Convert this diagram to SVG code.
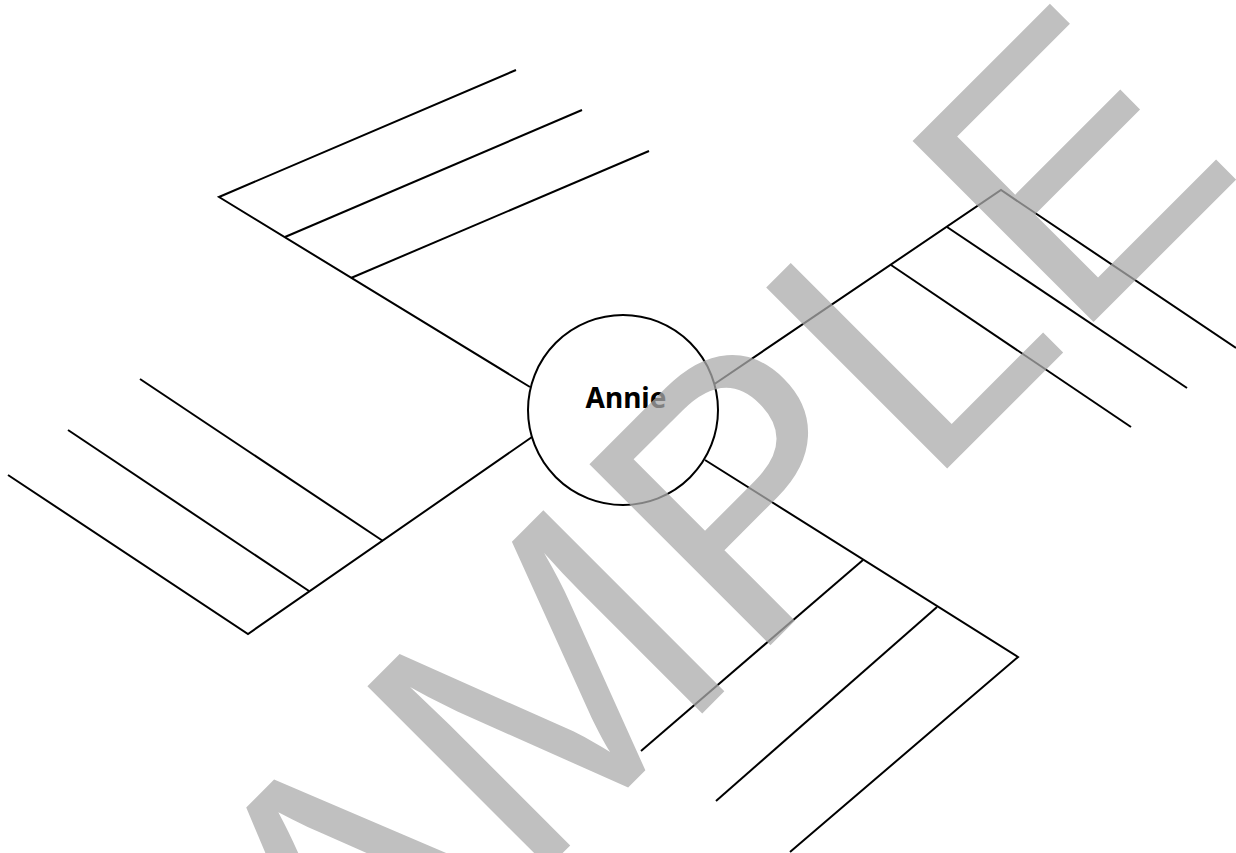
<svg xmlns="http://www.w3.org/2000/svg" width="1236" height="853" viewBox="0 0 1236 853">
<style>
.ln{stroke:#000;stroke-width:2;fill:none;stroke-linecap:butt;stroke-linejoin:miter}
.ctr{fill:#fff;stroke:#000;stroke-width:2}
.lbl{font-family:"Noto Sans","DejaVu Sans",sans-serif;font-weight:bold;font-size:28px;fill:#000;text-anchor:middle}
.wm{font-family:"Liberation Sans",Arial,sans-serif;font-size:372px;fill:#ababab;opacity:0.75}
</style>
<rect width="1236" height="853" fill="#fff"/>
<g id="connectors">
<polyline class="ln" points="530,387 219,197 516,70"/>
<polyline class="ln" points="532,437 248,634 8,475"/>
<polyline class="ln" points="713,385 1001,190 1236,348"/>
<polyline class="ln" points="705,460 1018,657 790,852"/>
</g>
<g id="topic-ul-2"><line class="ln" x1="285" y1="237" x2="582" y2="110"/></g>
<g id="topic-ul-3"><line class="ln" x1="351" y1="278" x2="649" y2="151"/></g>
<g id="topic-ll-1"><line class="ln" x1="383" y1="541" x2="140" y2="379"/></g>
<g id="topic-ll-2"><line class="ln" x1="309" y1="591" x2="68" y2="430"/></g>
<g id="topic-ur-2"><line class="ln" x1="947" y1="227" x2="1187" y2="388"/></g>
<g id="topic-ur-3"><line class="ln" x1="891" y1="265" x2="1131" y2="427"/></g>
<g id="topic-lr-1"><line class="ln" x1="863" y1="560" x2="641" y2="751"/></g>
<g id="topic-lr-2"><line class="ln" x1="937" y1="607" x2="716" y2="801"/></g>
<g id="node-annie">
<circle class="ctr" cx="623" cy="410" r="95"/>
<text class="lbl" x="626" y="408">Annie</text>
</g>
<g id="watermark" transform="rotate(-45)">
<text class="wm" x="-760 -502 -256 58 308 515" y="1001">SAMPLE</text>
</g>
</svg>
